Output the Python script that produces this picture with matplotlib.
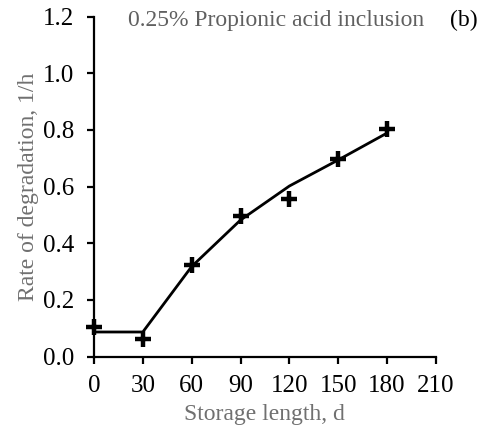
import matplotlib
matplotlib.use('Agg')
import matplotlib.pyplot as plt

# storage length (days) and measured rate of degradation
days = [0, 30, 60, 90, 120, 150, 180]
rate_obs = [0.106, 0.061, 0.324, 0.498, 0.557, 0.697, 0.805]
rate_fit = [0.087, 0.087, 0.318, 0.482, 0.602, 0.694, 0.789]

xticks = [0, 30, 60, 90, 120, 150, 180, 210]
yticks = [0.0, 0.2, 0.4, 0.6, 0.8, 1.0, 1.2]

plt.rcParams['font.family'] = ['Liberation Serif', 'DejaVu Serif']

fig = plt.figure(figsize=(4.87, 4.36), dpi=100)
ax = fig.add_axes([0.193, 0.182, 0.702, 0.780])

ax.plot(days, rate_fit, color='black', lw=2, zorder=2)
ax.plot(days, rate_obs, linestyle='none', marker='+', markersize=11,
        markeredgewidth=3.2, color='black', zorder=3)

ax.set_xlim(0, 210)
ax.set_ylim(0, 1.2)
ax.set_xticks(xticks)
ax.set_yticks(yticks)
ax.set_yticklabels(['{:.1f}'.format(v) for v in yticks])

for s in ['top', 'right']:
    ax.spines[s].set_visible(False)
for s in ['left', 'bottom']:
    ax.spines[s].set_linewidth(1.6)
ax.tick_params(direction='out', length=5, width=1.6, labelsize=18, colors='black')
ax.tick_params(axis='y', pad=9)
ax.tick_params(axis='x', pad=8)
for ln in ax.lines:
    ln.set_clip_on(False)

ax.set_xlabel('Storage length, d', fontsize=17, color='#707070', labelpad=5)
ax.set_ylabel('Rate of degradation, 1/h', fontsize=17, color='#707070', labelpad=3)

fig.text(0.263, 0.94, '0.25% Propionic acid inclusion', fontsize=17, color='#606060')
fig.text(0.925, 0.94, '(b)', fontsize=17, color='black')

fig.savefig('out.png', dpi=100)
